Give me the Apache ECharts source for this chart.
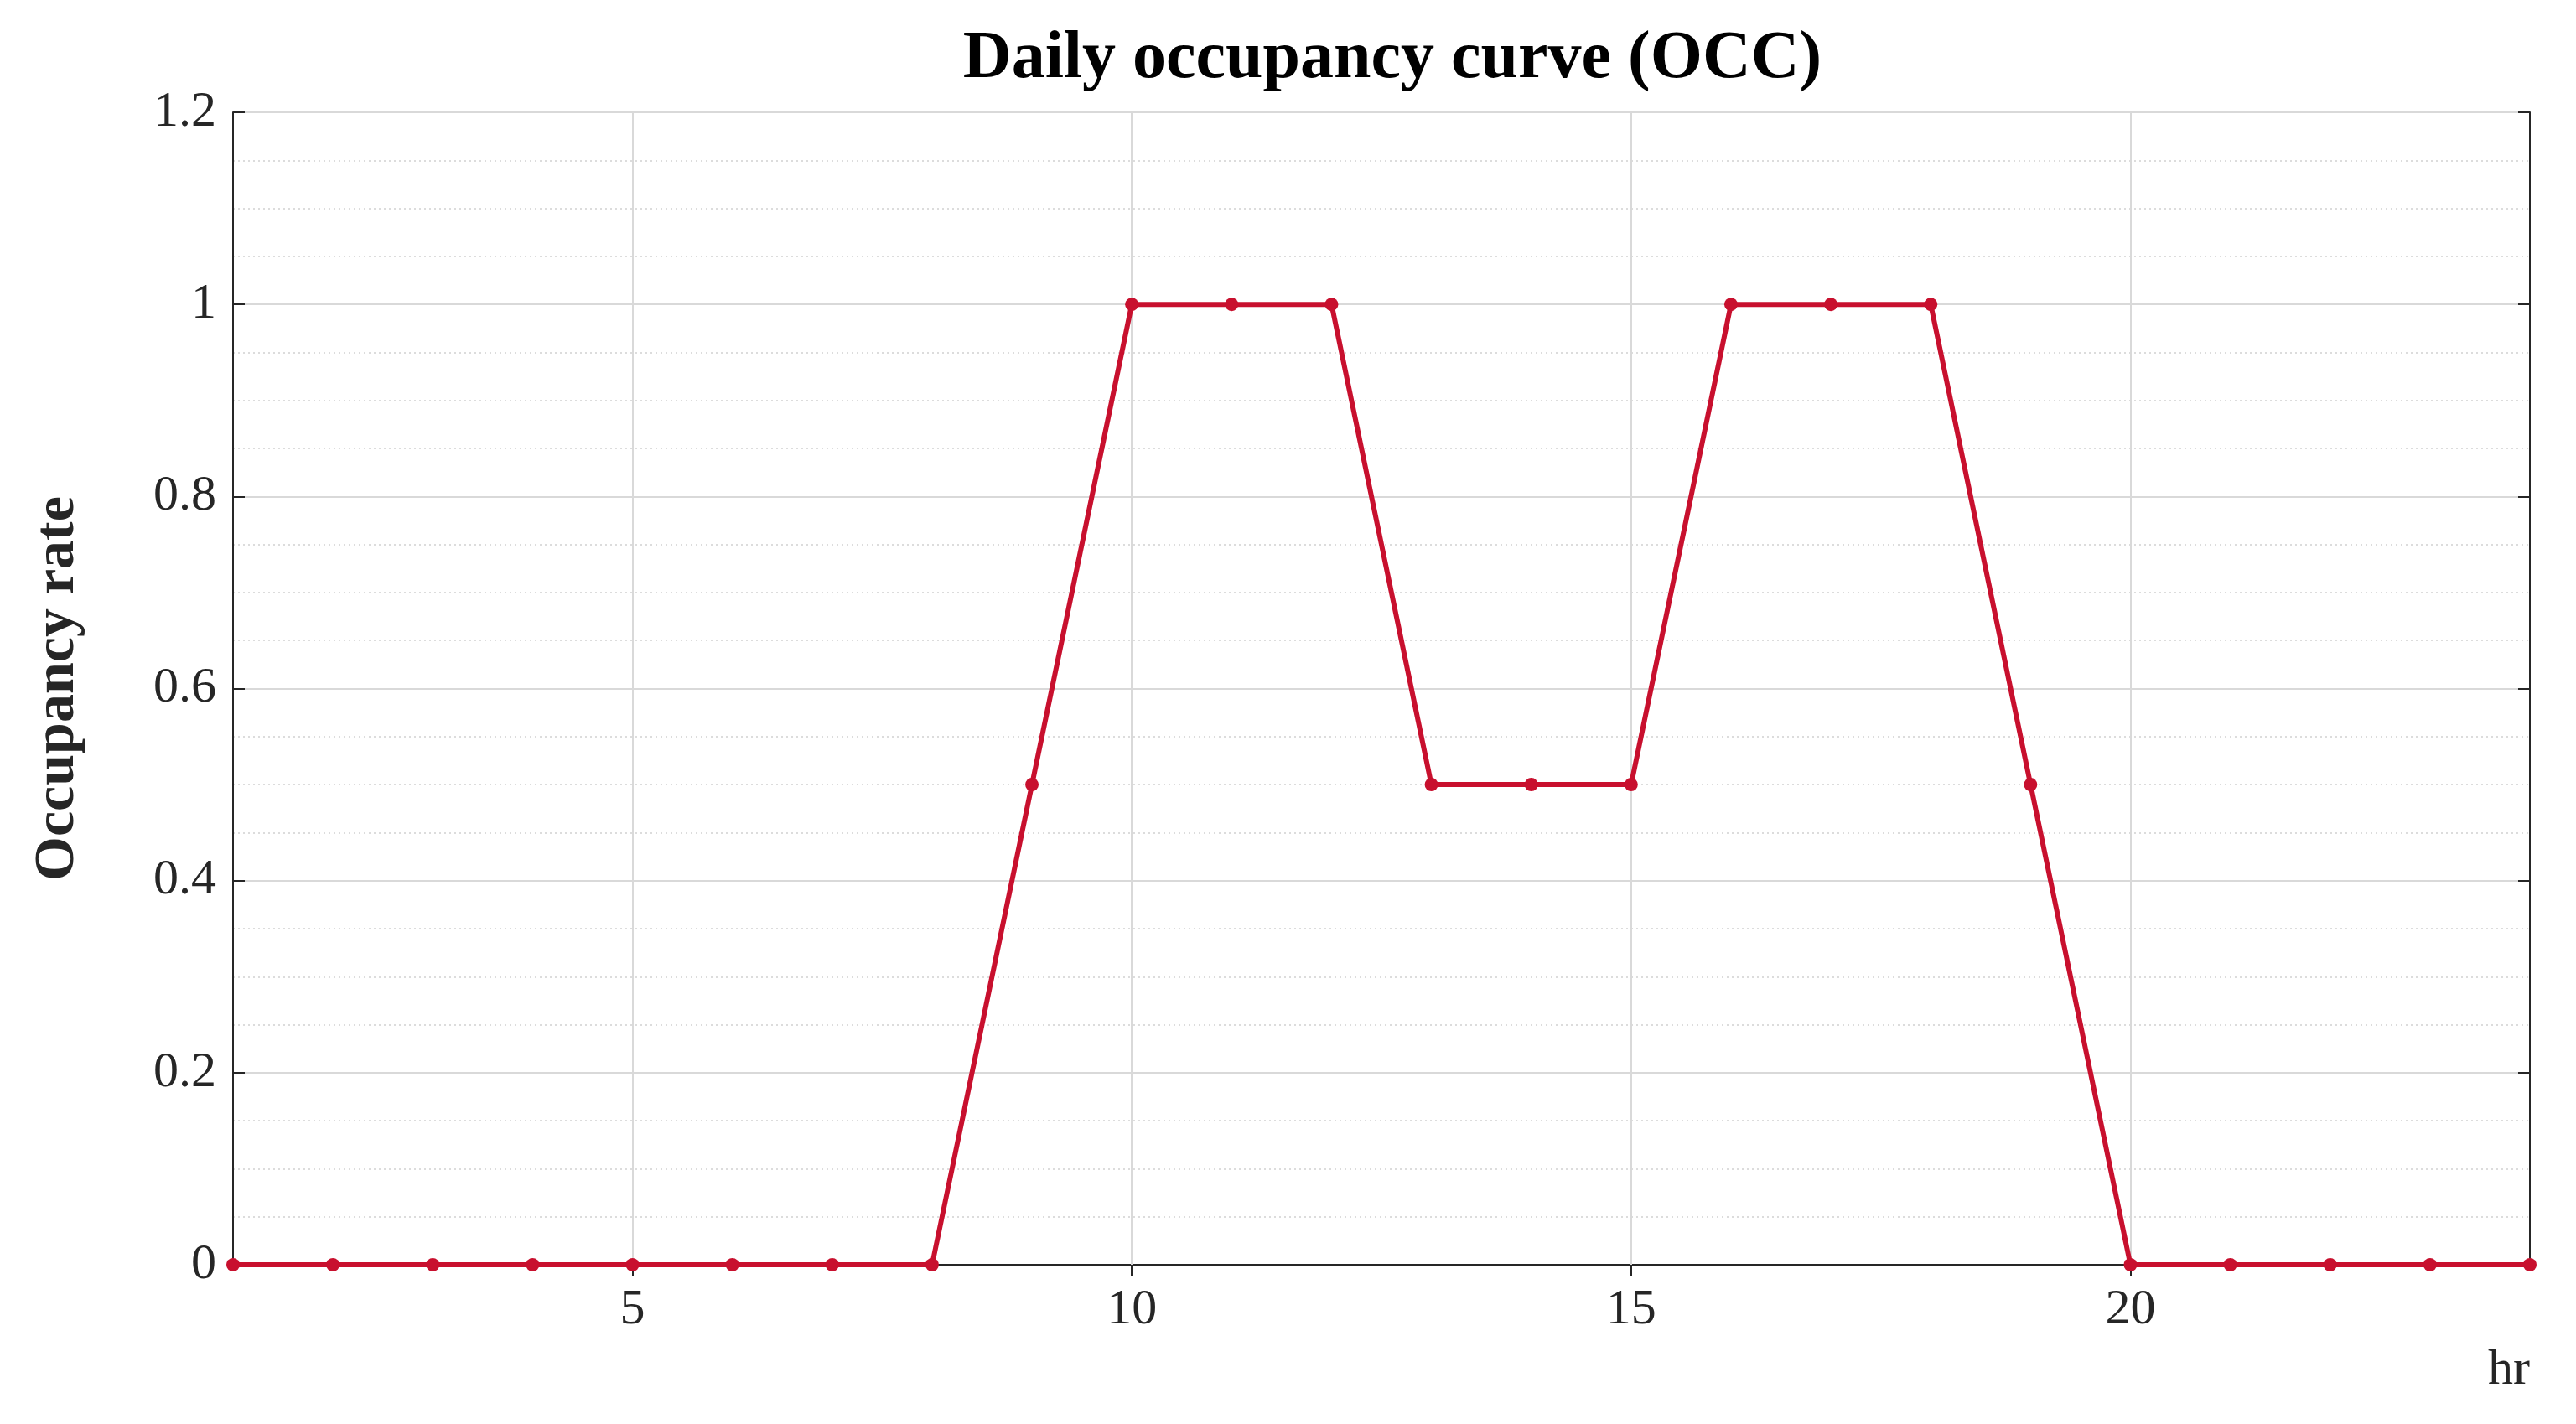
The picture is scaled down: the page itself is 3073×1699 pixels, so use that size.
<!DOCTYPE html>
<html>
<head>
<meta charset="utf-8">
<script src="https://cdn.jsdelivr.net/npm/echarts@6/dist/echarts.min.js"></script>
<style>html,body{margin:0;padding:0;background:#fff}#chart{width:3073px;height:1699px}</style>
</head>
<body>
<div id="chart"></div>
<script>
const hours = [1,2,3,4,5,6,7,8,9,10,11,12,13,14,15,16,17,18,19,20,21,22,23,24];
const occupancy = [0,0,0,0,0,0,0,0,0.5,1,1,1,0.5,0.5,0.5,1,1,1,0.5,0,0,0,0,0];
const xTicks = [5,10,15,20];

const chart = echarts.init(document.getElementById('chart'));
const font = 'Liberation Serif';
const axisText = {fontFamily: font, fontSize: 60, color: '#262626'};
const dark = {color: '#262626', width: 2};

chart.setOption({
    title: {
        text: 'Daily occupancy curve (OCC)',
        left: 1656, top: 26, textAlign: 'center',
        textStyle: {fontFamily: font, fontSize: 80, fontWeight: 'bold', color: '#000'}
    },
    grid: {left: 278, right: 55, top: 134, bottom: 190},
    xAxis: [{
        type: 'value', min: 1, max: 24,
        axisLine: {show: true, lineStyle: dark},
        axisTick: {show: true, inside: true, length: 14, customValues: xTicks, lineStyle: dark},
        axisLabel: Object.assign({margin: 24, customValues: xTicks}, axisText),
        splitLine: {show: false}
    }, {
        type: 'value', min: 1, max: 24, position: 'top',
        axisLine: {show: true, lineStyle: dark},
        axisTick: {show: true, inside: true, length: 14, customValues: xTicks, lineStyle: dark},
        axisLabel: {show: false},
        splitLine: {show: false}
    }],
    yAxis: [{
        type: 'value', min: 0, max: 1.2, interval: 0.2,
        axisLine: {show: true, lineStyle: dark},
        axisTick: {show: true, inside: true, length: 14, lineStyle: dark},
        axisLabel: Object.assign({margin: 20, formatter: v => String(Math.round(v * 10) / 10)}, axisText),
        splitLine: {show: true, lineStyle: {color: '#d9d9d9', width: 2}},
        minorTick: {show: false, splitNumber: 4},
        minorSplitLine: {show: true, lineStyle: {color: '#dcdcdc', width: 2, type: [2, 4]}},
        name: 'Occupancy rate', nameLocation: 'middle', nameGap: 175, nameRotate: 90,
        nameTextStyle: {fontFamily: font, fontSize: 68, fontWeight: 'bold', color: '#262626'}
    }, {
        type: 'value', min: 0, max: 1.2, interval: 0.2, position: 'right',
        axisLine: {show: true, lineStyle: dark},
        axisTick: {show: true, inside: true, length: 14, lineStyle: dark},
        axisLabel: {show: false},
        splitLine: {show: false}
    }],
    graphic: [{
        type: 'text', right: 55, top: 1605,
        style: {text: 'hr', fontFamily: font, fontSize: 60, fill: '#262626'}
    }],
    series: [{
        type: 'line',
        data: hours.map((h, i) => [h, occupancy[i]]),
        symbol: 'circle', symbolSize: 16,
        lineStyle: {color: '#c8102e', width: 6},
        itemStyle: {color: '#c8102e'},
        clip: false,
        animation: false,
        markLine: {
            silent: true, symbol: 'none', label: {show: false},
            lineStyle: {color: '#d9d9d9', width: 2, type: 'solid'},
            data: xTicks.map(v => ({xAxis: v}))
        },
        z: 5
    }]
});
</script>
</body>
</html>
